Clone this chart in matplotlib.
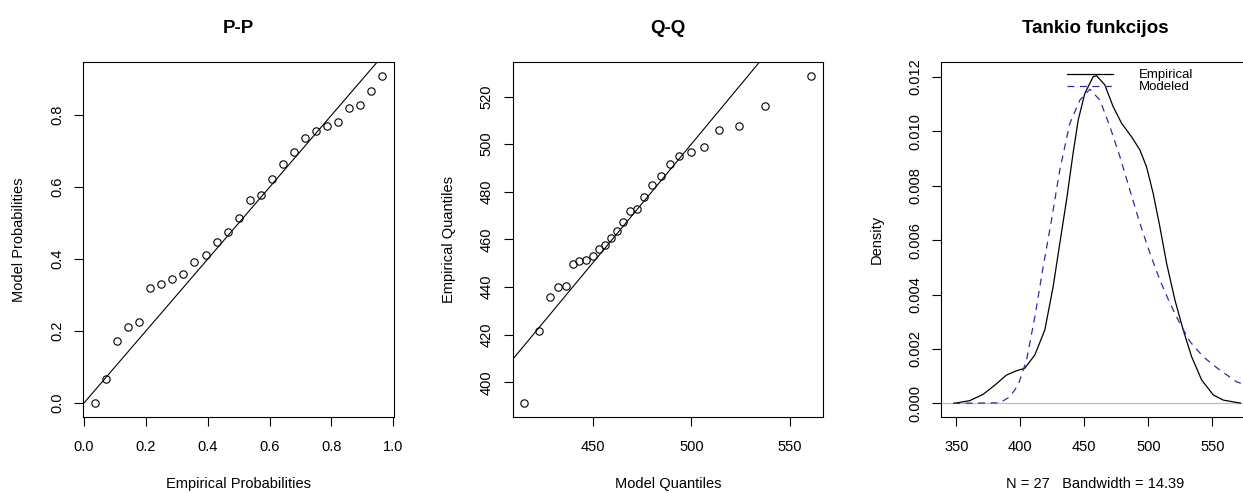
import matplotlib
matplotlib.use("Agg")
import matplotlib.pyplot as plt
from matplotlib.lines import Line2D

plt.rcParams['font.family'] = ['Liberation Sans', 'DejaVu Sans']

# P-P plot: empirical vs model probabilities
pp_empirical = [0.036, 0.071, 0.107, 0.143, 0.179, 0.214, 0.250, 0.286, 0.321,
                0.357, 0.393, 0.429, 0.464, 0.500, 0.536, 0.571, 0.607, 0.643,
                0.679, 0.714, 0.750, 0.786, 0.821, 0.857, 0.893, 0.929, 0.964]
pp_model = [0.000, 0.068, 0.173, 0.211, 0.224, 0.320, 0.332, 0.345, 0.358,
            0.391, 0.412, 0.447, 0.476, 0.514, 0.563, 0.577, 0.623, 0.665,
            0.699, 0.737, 0.757, 0.770, 0.782, 0.820, 0.829, 0.867, 0.910]

# Q-Q plot: model vs empirical quantiles
qq_model = [415.2, 422.7, 428.3, 432.7, 436.4, 440.2, 443.4, 446.5, 450.2,
            453.4, 456.2, 459.4, 462.6, 465.5, 469.2, 472.4, 476.3, 480.3,
            484.7, 489.4, 493.8, 500.0, 506.2, 514.0, 523.9, 537.5, 560.6]
qq_empirical = [391.2, 421.7, 435.7, 440.2, 440.6, 449.8, 451.1, 451.5, 453.1,
                456.1, 457.8, 460.6, 463.7, 467.1, 472.1, 472.7, 478.0, 482.9,
                486.7, 491.7, 494.9, 496.9, 499.0, 505.8, 507.7, 516.1, 528.8]

# density curves
emp_x = [348.0, 360.4, 370.8, 380.0, 389.1, 397.0, 403.4, 411.3, 419.1, 425.6,
         430.8, 436.1, 441.2, 445.2, 450.4, 456.9, 459.5, 466.0, 472.5, 479.1,
         486.9, 493.4, 498.6, 503.8, 509.0, 514.3, 520.8, 527.3, 533.9, 541.7,
         550.8, 558.6, 572.0]
emp_y = [0.0, 0.0001, 0.00033, 0.00067, 0.00104, 0.0012, 0.00129, 0.00178,
         0.0027, 0.00429, 0.00588, 0.00748, 0.0092, 0.01042, 0.0114, 0.01201,
         0.01205, 0.01171, 0.01091, 0.0103, 0.0098, 0.00932, 0.0087, 0.00772,
         0.0065, 0.00515, 0.0038, 0.0027, 0.00171, 0.00086, 0.00031, 0.00012,
         0.00001]
mod_x = [347.4, 383.9, 391.7, 398.2, 404.8, 411.3, 417.8, 424.3, 430.8, 438.7,
         446.5, 454.3, 462.2, 470.0, 477.8, 485.6, 493.4, 501.3, 509.1, 516.9,
         524.7, 532.6, 543.0, 556.0, 569.1, 575.0]
mod_y = [0.0, 0.00002, 0.00024, 0.00067, 0.00159, 0.00318, 0.00502, 0.00674,
         0.00858, 0.0103, 0.01115, 0.01155, 0.01115, 0.01017, 0.00907, 0.00784,
         0.00662, 0.00552, 0.00453, 0.00368, 0.00294, 0.00227, 0.00171,
         0.00122, 0.00079, 0.0007]

FS = 10.5
W, H = 1243, 493


def r_style(ax, xticks, yticks, yfmt="{:g}"):
    """Base-R look: full box, outward ticks, rotated y tick labels."""
    for s in ax.spines.values():
        s.set_linewidth(0.8)
    ax.set_xticks(xticks)
    ax.set_yticks(yticks)
    ax.set_xticklabels([f"{t:.1f}" if isinstance(t, float) and t < 2 else f"{t:g}" for t in xticks])
    ax.set_yticklabels([yfmt.format(t) for t in yticks])
    ax.tick_params(axis='both', direction='out', length=6.5, width=0.8, labelsize=FS)
    ax.tick_params(axis='x', pad=10)
    ax.tick_params(axis='y', pad=7)
    for lab in ax.get_yticklabels():
        lab.set_rotation(90)
        lab.set_va('center')


def add_axes(left_px, right_px):
    top_px, bottom_px = 62.3, 416.7
    return fig.add_axes([left_px / W, 1 - bottom_px / H,
                         (right_px - left_px) / W, (bottom_px - top_px) / H])


def labels(ax, title, xlabel, ylabel, width_px):
    ax.set_title(title, fontsize=13.5, fontweight='bold', pad=21)
    ax.set_xlabel(xlabel, fontsize=FS)
    ax.set_ylabel(ylabel, fontsize=FS)
    ax.xaxis.set_label_coords(0.5, -0.170)
    ax.yaxis.set_label_coords(-57 / width_px, 0.5)


fig = plt.figure(figsize=(W / 100, H / 100), dpi=100)

# ---- P-P ----
ax1 = add_axes(82.7, 394.3)
ax1.axline((0, 0), slope=1, color='black', lw=0.8)
ax1.plot(pp_empirical, pp_model, 'o', mfc='none', mec='black', ms=5.3, mew=0.8)
ax1.set_xlim(-0.004, 1.003)
ax1.set_ylim(-0.038, 0.947)
r_style(ax1, [0.0, 0.2, 0.4, 0.6, 0.8, 1.0], [0.0, 0.2, 0.4, 0.6, 0.8], "{:.1f}")
labels(ax1, "P-P", "Empirical Probabilities", "Model Probabilities", 311.6)

# ---- Q-Q ----
ax2 = add_axes(512.7, 823.3)
ax2.axline((450, 450), slope=1, color='black', lw=0.8)
ax2.plot(qq_model, qq_empirical, 'o', mfc='none', mec='black', ms=5.3, mew=0.8)
ax2.set_xlim(409.6, 566.8)
ax2.set_ylim(385.5, 534.4)
r_style(ax2, [450, 500, 550], [400, 420, 440, 460, 480, 500, 520])
labels(ax2, "Q-Q", "Model Quantiles", "Empirical Quantiles", 310.6)

# ---- density ----
ax3 = add_axes(940.7, 1250.0)
ax3.axhline(0, color='#BEBEBE', lw=0.9)
ax3.plot(emp_x, emp_y, color='black', lw=0.9)
ax3.plot(mod_x, mod_y, color='#2D2DA0', lw=0.9, dashes=(5.5, 4.5))
ax3.set_xlim(337.7, 579.5)
ax3.set_ylim(-0.00049, 0.01254)
r_style(ax3, [350, 400, 450, 500, 550],
        [0.0, 0.002, 0.004, 0.006, 0.008, 0.010, 0.012], "{:.3f}")
labels(ax3, "Tankio funkcijos", "N = 27   Bandwidth = 14.39", "Density", 309.3)

handles = [Line2D([], [], color='black', lw=0.9),
           Line2D([], [], color='#2D2DA0', lw=0.9, dashes=(5.5, 4.5))]
ax3.legend(handles, ["Empirical", "Modeled"], loc='upper left',
           bbox_to_anchor=(1067.3 / W, 1 - 69 / H), bbox_transform=fig.transFigure,
           frameon=False, borderpad=0, borderaxespad=0, fontsize=9.5,
           handlelength=3.5, handletextpad=1.9, labelspacing=0.0)

fig.savefig("out.png", dpi=100)
